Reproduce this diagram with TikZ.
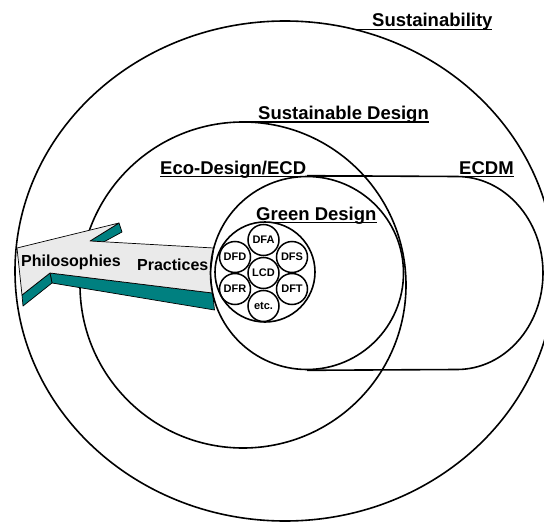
\documentclass[tikz,border=0pt]{standalone}
\usepackage{fontspec}
\setmainfont{Liberation Sans}
\usetikzlibrary{shapes.geometric}
\definecolor{arrowgray}{RGB}{234,234,234}
\definecolor{arrowteal}{RGB}{0,128,128}
\begin{document}
\begin{tikzpicture}[x=1pt,y=-1pt,
  ring/.style={draw=black,line width=1.6pt},
  ul/.style={draw=black,line width=1.5pt},
  title/.style={anchor=base west,inner sep=0pt,font=\fontsize{18.5}{20}\selectfont\bfseries},
  arrowlabel/.style={anchor=base west,inner sep=0pt,font=\fontsize{16}{18}\selectfont\bfseries},
  tool/.style={circle,draw=black,line width=1.5pt,minimum size=31pt,inner sep=0pt,font=\fontsize{11}{12}\selectfont\bfseries},
  facegray/.style={fill=arrowgray,draw=black,line width=0.7pt,line join=round},
  faceteal/.style={fill=arrowteal,draw=black,line width=0.7pt,line join=round}]
\useasboundingbox (0,0) rectangle (544,522);
\begin{scope}
\clip (0,0) rectangle (544,522);
% Sustainability
\node[ellipse,ring,minimum width=540pt,minimum height=500pt,inner sep=0pt] (sust) at (285,271) {};
% Sustainable Design
\node[circle,ring,minimum size=326pt,inner sep=0pt] (sdes) at (243,285) {};
\end{scope}
% 3D arrow
\path[faceteal] (90,241) coordinate (cn) -- (119,223) coordinate (bt) -- (122,232) -- (104,241.8) -- cycle;
\path[faceteal] (50,273) coordinate (fn) -- (212.6,293) coordinate (er) -- (214.5,310) -- (52,283) -- cycle;
\path[faceteal] (22,295) coordinate (gt) -- (fn) -- (52,283) -- (23,306) -- cycle;
\path[facegray] (17,248) -- (bt) -- (cn) -- (213.8,248) -- (210.5,273) -- (er) -- (fn) -- (gt) -- cycle;
\node[arrowlabel] (phil) at (21,266) {Philosophies};
\node[arrowlabel] (prac) at (137,270) {Practices};
% Eco-Design / ECD circle
\node[circle,ring,minimum size=193pt,inner sep=0pt] (ecd) at (307,273) {};
% ECDM stadium
\draw[ring] (ecd.north) -- (457,176.5) arc[start angle=-90,end angle=90,x radius=86,y radius=96.5] -- (ecd.south);
% Green Design circle
\node[circle,ring,minimum size=100pt,inner sep=0pt] (green) at (265,272) {};
% tools
\node[tool] (lcd) at (263.5,273) {LCD};
\node[tool] (dfa) at (263.5,240) {DFA};
\node[tool] (etc) at (263.5,306) {etc.};
\node[tool] (dfd) at (235,257) {DFD};
\node[tool] (dfs) at (292,257) {DFS};
\node[tool] (dfr) at (235,289) {DFR};
\node[tool] (dft) at (292,289) {DFT};
% titles
\node[title] (tsust) at (372,27) {Sustainability};
\draw[ul] (357,29.5) -- (492,29.5);
\node[title] (tsdes) at (258,119) {Sustainable Design};
\draw[ul] (243,122) -- (429,122);
\node[title] (tecd) at (160,174) {Eco-Design/ECD};
\node[title] (tecdm) at (459,174) {ECDM};
\draw[ul] (160,176.5) -- (514,176.5);
\node[title] (tgreen) at (256,220) {Green Design};
\draw[ul] (256,222.5) -- (377,222.5);
\end{tikzpicture}
\end{document}
